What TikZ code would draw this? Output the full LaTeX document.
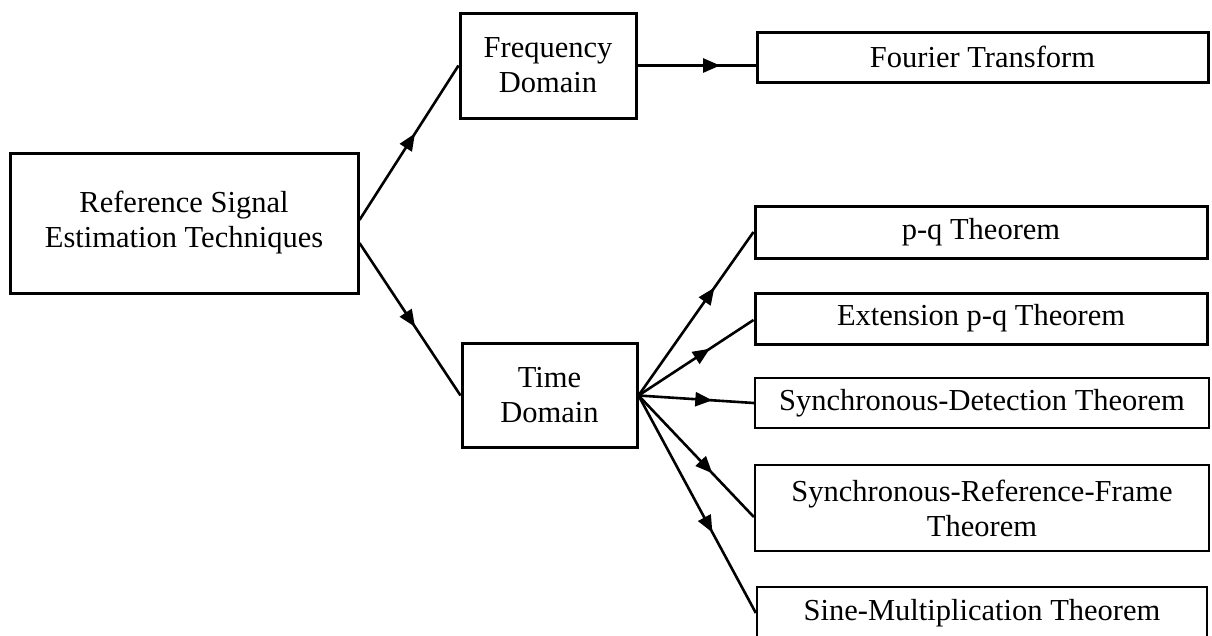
\documentclass[tikz,border=0pt]{standalone}
\usepackage{fontspec}
\setmainfont{Liberation Serif}
\usetikzlibrary{arrows.meta,decorations.markings,calc}
\begin{document}
\begin{tikzpicture}[x=1pt,y=-1pt,
  box/.style={draw,line width=3pt,rectangle,inner sep=0pt,align=center,font=\fontsize{30.5}{35}\selectfont},
  thinbox/.style={box,line width=2.3pt},
  conn/.style={line width=2.6pt,postaction={decorate},decoration={markings,mark=at position #1 with {\arrow{Triangle[length=17pt,width=14pt]}}}},
  conn/.default=0.6]
\useasboundingbox (0,0) rectangle (1212,635);
\node[box,minimum width=348pt,minimum height=140pt] (root) at (184,223) {Reference Signal\\Estimation Techniques};
\node[box,minimum width=176pt,minimum height=105pt] (freq) at (548,65.5) {Frequency\\Domain};
\node[box,minimum width=175pt,minimum height=104pt] (time) at (549.5,395.5) {Time\\Domain};
\node[box,minimum width=451pt,minimum height=50pt] (four) at (982.5,57) {Fourier Transform};
\node[box,minimum width=452pt,minimum height=52pt] (pq) at (981,232) {p-q Theorem};
\node[box,minimum width=452pt,minimum height=51pt] (ext) at (981,318.5) {Extension p-q Theorem};
\node[thinbox,minimum width=454pt,minimum height=50pt] (sd) at (982,403) {Synchronous-Detection Theorem};
\node[thinbox,minimum width=454pt,minimum height=86pt] (srf) at (982,508) {Synchronous-Reference-Frame\\Theorem};
\node[thinbox,minimum width=450pt,minimum height=52pt] (sine) at (982,613) {Sine-Multiplication Theorem};
\draw[conn=0.56] ($(root.east)+(0,-3)$) -- (freq.west);
\draw[conn=0.55] ($(root.east)+(0,20)$) -- (time.west);
\draw[conn=0.7] (freq.east) -- (freq.east -| four.west);
\draw[conn=0.66] (time.east) -- (pq.west);
\draw[conn=0.62] (time.east) -- ($(ext.west)+(0,1.5)$);
\draw[conn=0.64] (time.east) -- (sd.west);
\draw[conn=0.64] (time.east) -- ($(srf.west)+(0,9)$);
\draw[conn=0.63] (time.east) -- (sine.west);
\end{tikzpicture}
\end{document}
